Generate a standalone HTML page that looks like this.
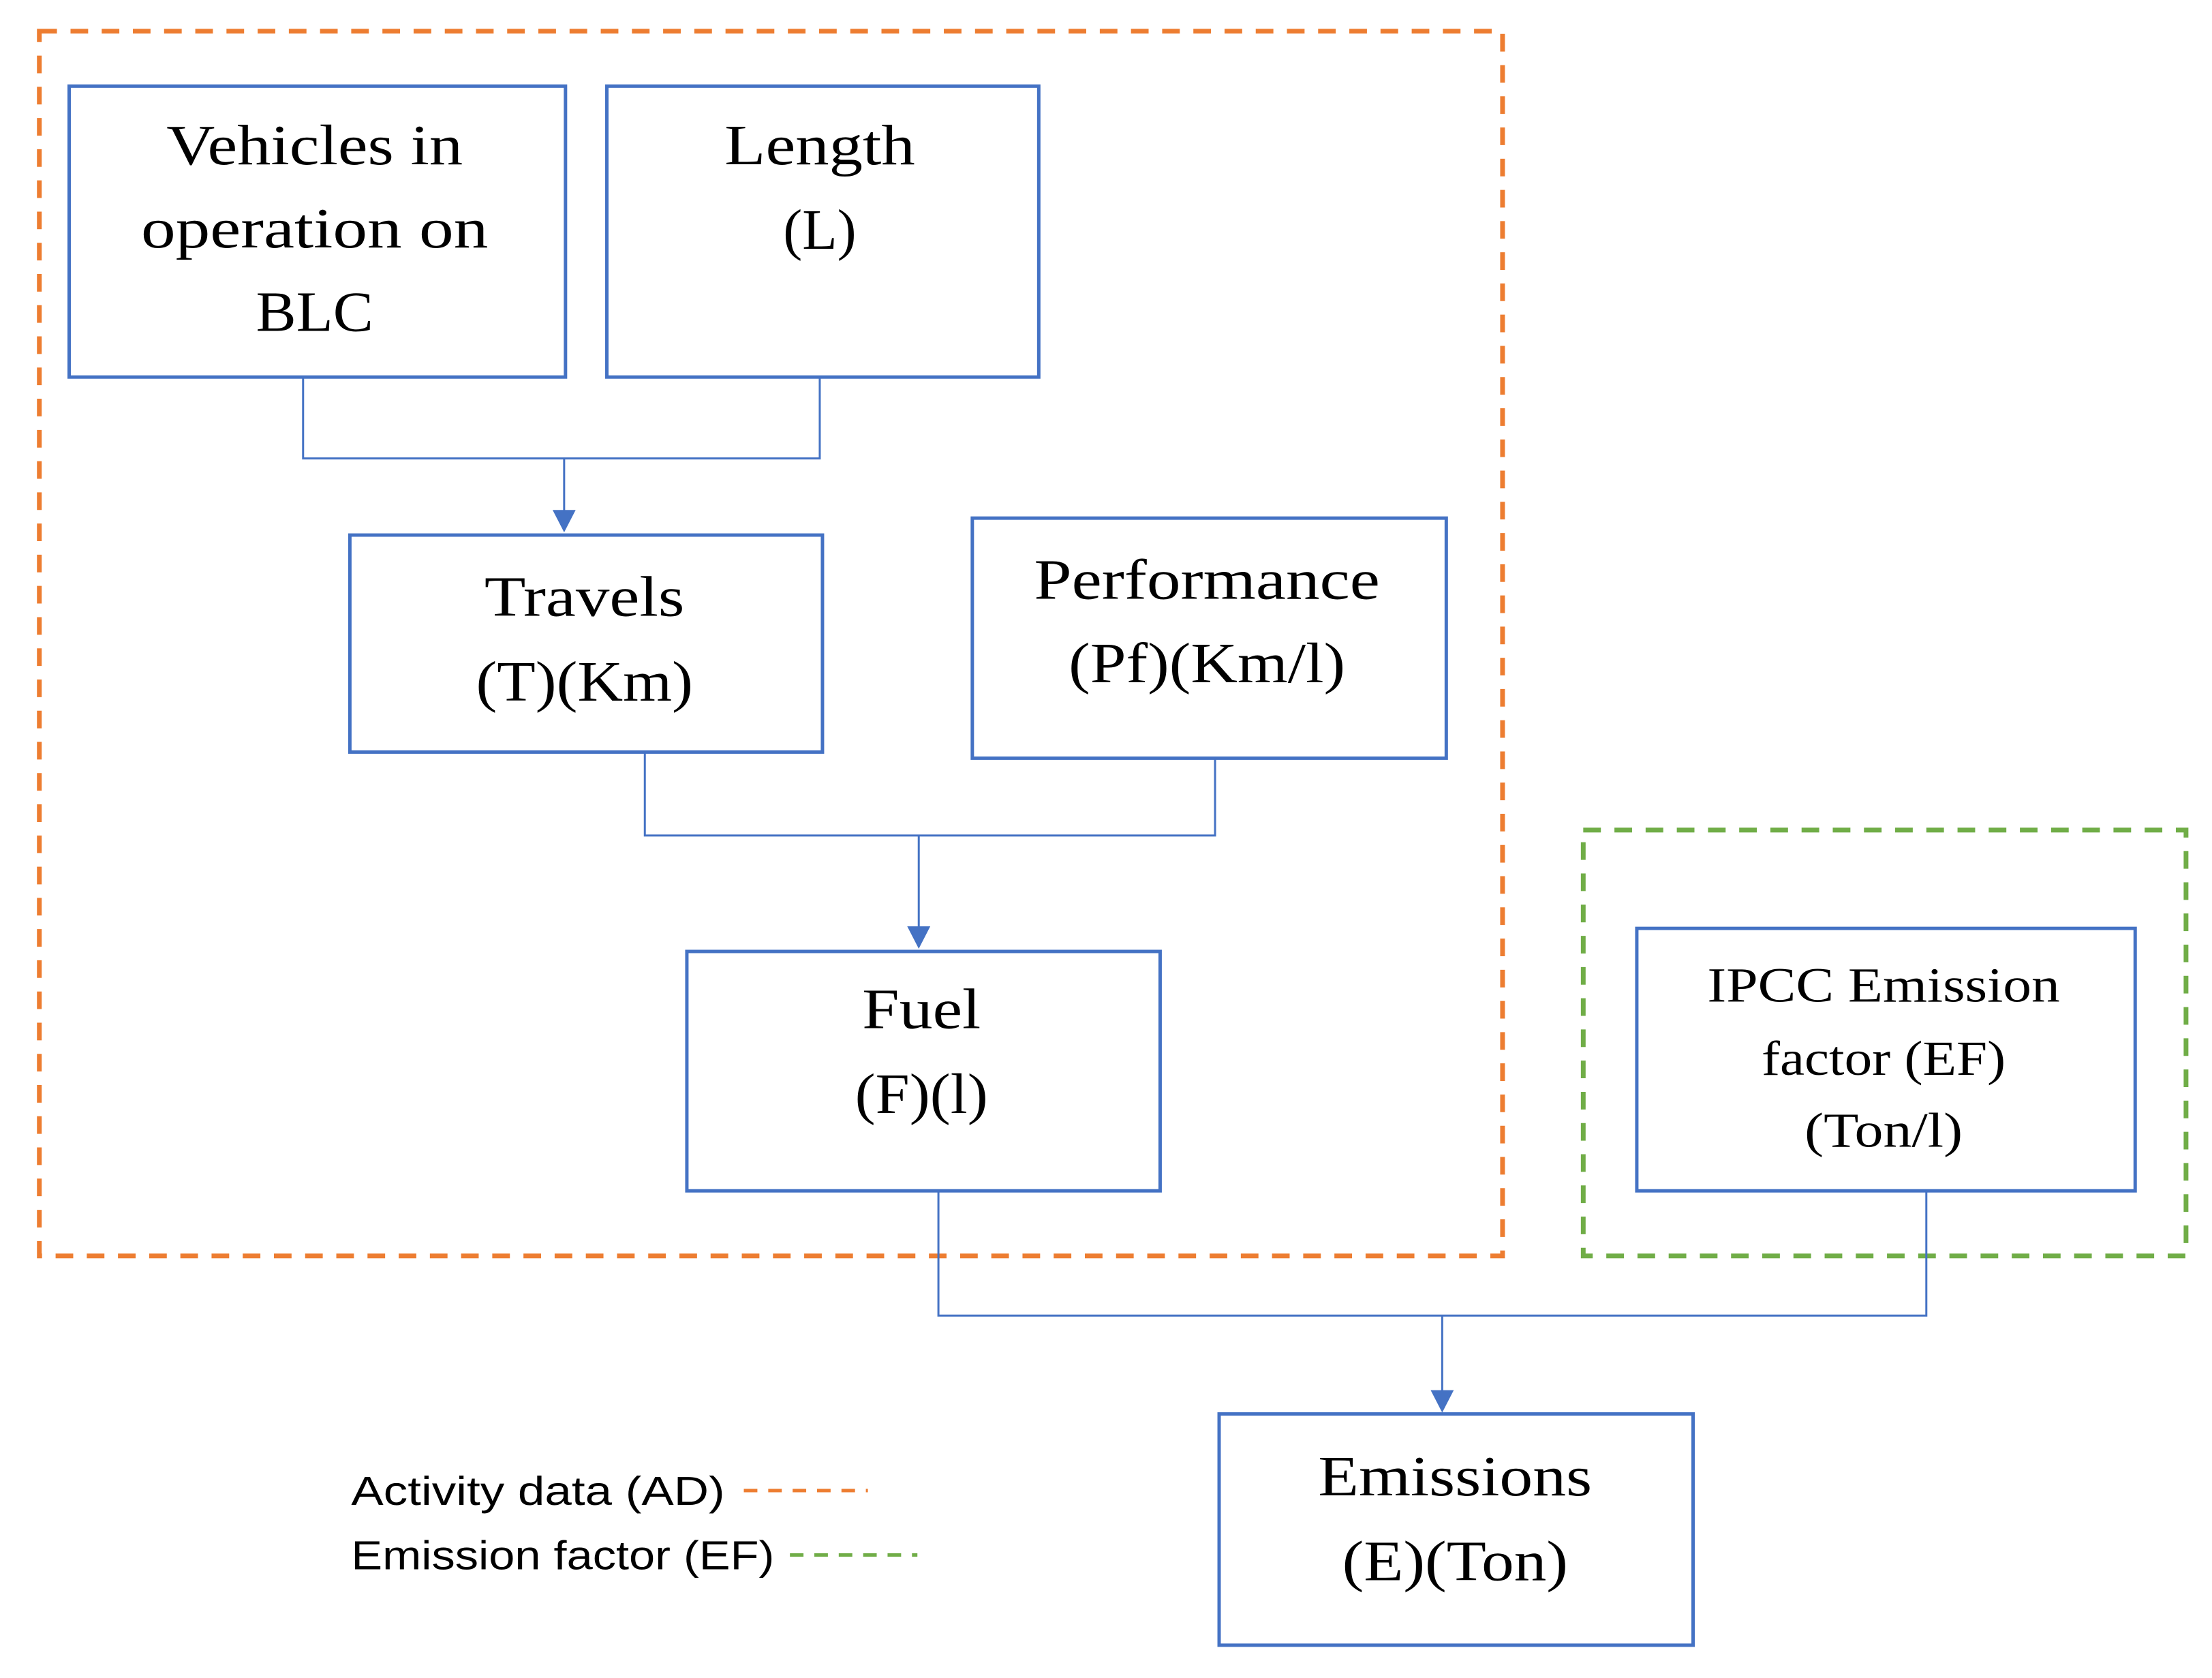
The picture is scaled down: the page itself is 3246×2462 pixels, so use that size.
<!DOCTYPE html>
<html><head><meta charset="utf-8"><style>html,body{margin:0;padding:0;background:#fff}svg{display:block}</style></head>
<body>
<svg width="3246" height="2462" viewBox="0 0 3246 2462" xmlns="http://www.w3.org/2000/svg">
<rect width="3246" height="2462" fill="#fff"/>
<g transform="scale(0.995)">
<g fill="none">
<rect x="58" y="46" width="2158" height="1806" stroke="#ED7D31" stroke-width="7" stroke-dasharray="26 20"/>
<rect x="2335" y="1224" width="889" height="628" stroke="#70AD47" stroke-width="7" stroke-dasharray="26 20"/>
<g stroke="#4472C4" stroke-width="5">
<rect x="102" y="127" width="732" height="429"/>
<rect x="895" y="127" width="637" height="429"/>
<rect x="516" y="789" width="697" height="320"/>
<rect x="1434" y="764" width="699" height="354"/>
<rect x="1013" y="1403" width="698" height="353"/>
<rect x="2414" y="1369" width="735" height="387"/>
<rect x="1798" y="2085" width="699" height="341"/>
</g>
<g stroke="#4472C4" stroke-width="3">
<polyline points="447,556 447,676 1209,676 1209,556"/>
<polyline points="951,1109 951,1232 1792,1232 1792,1118"/>
<polyline points="1384,1756 1384,1940 2841,1940 2841,1756"/>
<line x1="832" y1="676" x2="832" y2="755"/>
<line x1="1355" y1="1232" x2="1355" y2="1368"/>
<line x1="2127" y1="1940" x2="2127" y2="2053"/>
</g>
<g fill="#4472C4">
<path d="M815,752 L849,752 L832,785 Z"/>
<path d="M1338,1366 L1372,1366 L1355,1399 Z"/>
<path d="M2110,2050 L2144,2050 L2127,2083 Z"/>
</g>
<line x1="1097" y1="2198" x2="1280" y2="2198" stroke="#ED7D31" stroke-width="5" stroke-dasharray="20 16"/>
<line x1="1165" y1="2293" x2="1353" y2="2293" stroke="#70AD47" stroke-width="5" stroke-dasharray="20 16"/>
</g>
<g font-family="'Liberation Serif', serif" font-size="84" fill="#000" text-anchor="middle">
<text x="464" y="242" textLength="437" lengthAdjust="spacingAndGlyphs">Vehicles in</text>
<text x="464" y="365" textLength="512" lengthAdjust="spacingAndGlyphs">operation on</text>
<text x="464" y="488" textLength="173" lengthAdjust="spacingAndGlyphs">BLC</text>
<text x="1209" y="242" textLength="281" lengthAdjust="spacingAndGlyphs">Length</text>
<text x="1209" y="367" textLength="108" lengthAdjust="spacingAndGlyphs">(L)</text>
<text x="862" y="908" textLength="295" lengthAdjust="spacingAndGlyphs">Travels</text>
<text x="862" y="1033" textLength="320" lengthAdjust="spacingAndGlyphs">(T)(Km)</text>
<text x="1780" y="883" textLength="510" lengthAdjust="spacingAndGlyphs">Performance</text>
<text x="1780" y="1006" textLength="408" lengthAdjust="spacingAndGlyphs">(Pf)(Km/l)</text>
<text x="1359" y="1516" textLength="175" lengthAdjust="spacingAndGlyphs">Fuel</text>
<text x="1359" y="1641" textLength="196" lengthAdjust="spacingAndGlyphs">(F)(l)</text>
<text x="2146" y="2205" textLength="404" lengthAdjust="spacingAndGlyphs">Emissions</text>
<text x="2146" y="2330" textLength="333" lengthAdjust="spacingAndGlyphs">(E)(Ton)</text>
<g font-size="72">
<text x="2778" y="1477" textLength="520" lengthAdjust="spacingAndGlyphs">IPCC Emission</text>
<text x="2778" y="1585" textLength="360" lengthAdjust="spacingAndGlyphs">factor (EF)</text>
<text x="2778" y="1691" textLength="233" lengthAdjust="spacingAndGlyphs">(Ton/l)</text>
</g>
</g>
<g font-family="'Liberation Sans', sans-serif" font-size="60" fill="#000">
<text x="518" y="2219" textLength="551" lengthAdjust="spacingAndGlyphs">Activity data (AD)</text>
<text x="518" y="2314" textLength="624" lengthAdjust="spacingAndGlyphs">Emission factor (EF)</text>
</g>
</g>
</svg>
</body></html>
